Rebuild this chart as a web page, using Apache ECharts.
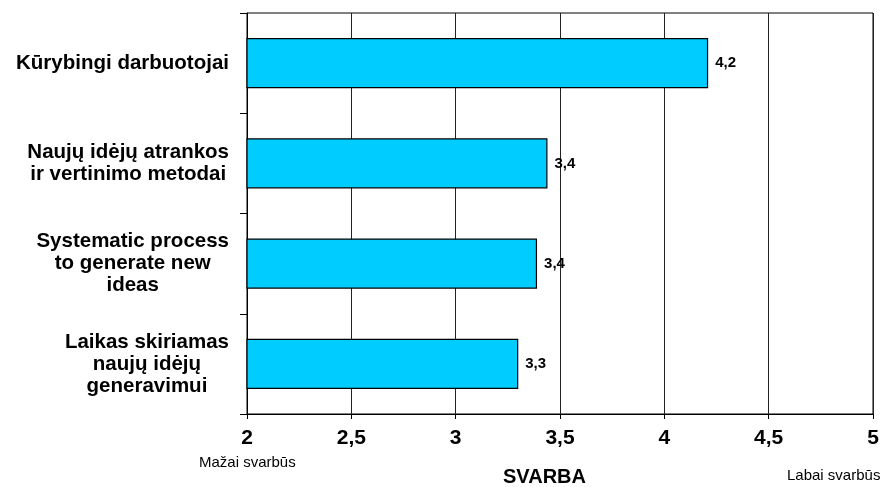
<!DOCTYPE html>
<html>
<head>
<meta charset="utf-8">
<script src="https://cdn.jsdelivr.net/npm/echarts@6/dist/echarts.min.js"></script>
<style>
html,body{margin:0;padding:0;background:#fff;}
#chart{width:889px;height:487px;}
</style>
</head>
<body>
<div id="chart"></div>
<script>
const categories = [
  'Kūrybingi darbuotojai',
  'Naujų idėjų atrankos\nir vertinimo metodai',
  'Systematic process\nto generate new\nideas',
  'Laikas skiriamas\nnaujų idėjų\ngeneravimui'
];
const values = [4.21, 3.44, 3.39, 3.30];
const xTicks = { min: 2, max: 5, interval: 0.5 };
const axisTitle = 'SVARBA';
const lowLabel = 'Mažai svarbūs';
const highLabel = 'Labai svarbūs';

const comma = v => String(v).replace('.', ',');

const chart = echarts.init(document.getElementById('chart'), null, { renderer: 'canvas' });
chart.setOption({
  animation: false,
  backgroundColor: '#fff',
  grid: {
    left: 247, right: 16, top: 13, bottom: 73,
    show: true, borderColor: '#000', borderWidth: 1, backgroundColor: 'transparent'
  },
  xAxis: {
    type: 'value',
    min: xTicks.min, max: xTicks.max, interval: xTicks.interval,
    axisLine: { show: true, lineStyle: { color: '#000', width: 1 } },
    axisTick: { show: true, length: 5, lineStyle: { color: '#000' } },
    splitLine: { show: true, lineStyle: { color: '#222', width: 1 } },
    axisLabel: {
      margin: 14,
      fontFamily: 'Liberation Sans, Arial, sans-serif',
      fontWeight: 'bold', fontSize: 21, color: '#000',
      formatter: v => comma(v)
    }
  },
  yAxis: {
    type: 'category',
    inverse: true,
    data: categories,
    axisLine: { show: true, lineStyle: { color: '#000', width: 1 } },
    axisTick: { show: true, length: 7, lineStyle: { color: '#000' } },
    splitLine: { show: false },
    axisLabel: {
      margin: 18,
      color: '#000',
      formatter: v => v.split('\n').map(l => '{c|' + l + '}').join('\n'),
      rich: {
        c: {
          align: 'center',
          fontFamily: 'Liberation Sans, Arial, sans-serif',
          fontWeight: 'bold', fontSize: 20.5, lineHeight: 22, color: '#000'
        }
      }
    }
  },
  series: [{
    type: 'bar',
    data: values,
    barWidth: '50%',
    itemStyle: { color: '#00CCFF', borderColor: '#000', borderWidth: 1.2 },
    label: {
      show: true, position: 'right', distance: 7,
      fontFamily: 'Liberation Sans, Arial, sans-serif',
      fontWeight: 'bold', fontSize: 15, color: '#000',
      formatter: p => comma(p.value.toFixed(1))
    }
  }],
  graphic: [
    {
      type: 'text', left: 503, top: 467,
      style: { text: axisTitle, font: 'bold 20px "Liberation Sans", Arial, sans-serif', fill: '#000' }
    },
    {
      type: 'text', left: 199, top: 455,
      style: { text: lowLabel, font: '15px "Liberation Sans", Arial, sans-serif', fill: '#000' }
    },
    {
      type: 'text', left: 787, top: 468,
      style: { text: highLabel, font: '15px "Liberation Sans", Arial, sans-serif', fill: '#000' }
    }
  ]
});
</script>
</body>
</html>
